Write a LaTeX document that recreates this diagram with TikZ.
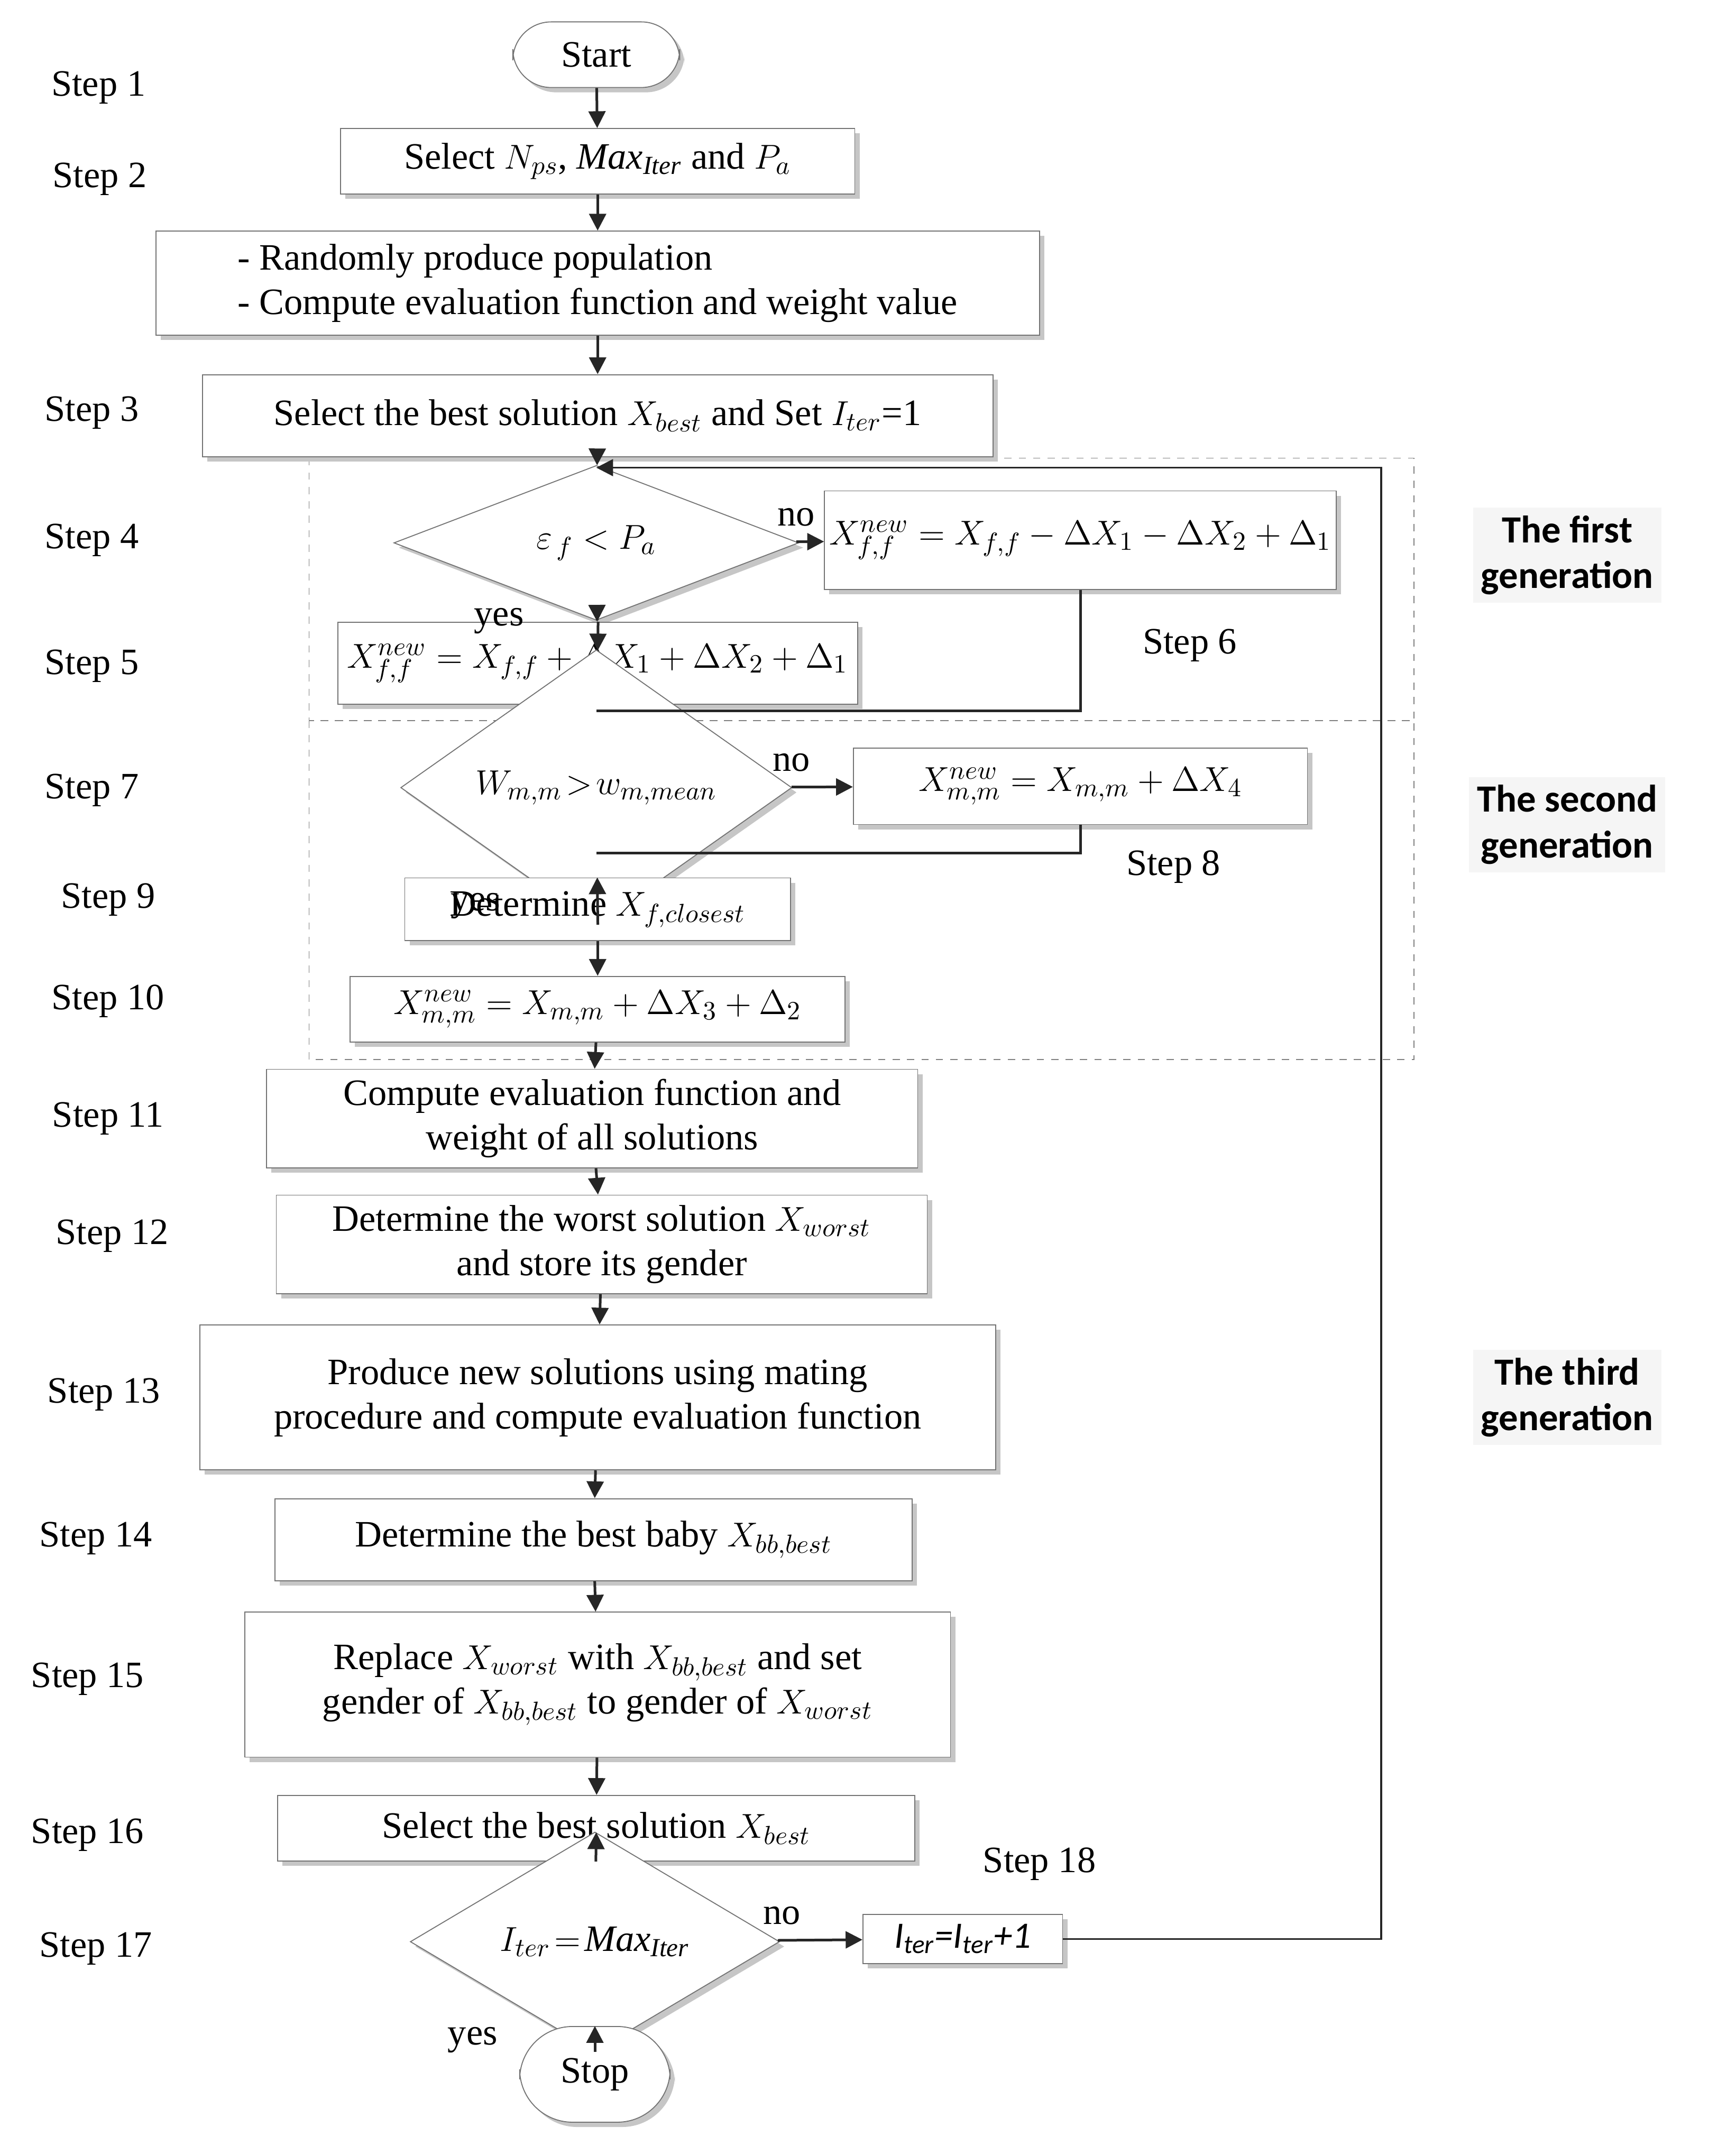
\documentclass[tikz,border=0pt]{standalone}
\usepackage{fontspec}
\setmainfont{Liberation Serif}
\setsansfont{Carlito}
\usetikzlibrary{shapes.geometric,shadows,arrows.meta}

\tikzset{
	sz/.style 2 args={minimum width=#1*0.02cm, minimum height=#2*0.02cm},
	box/.style={draw=gray!90!black, fill=white, inner sep=2pt, align=center,
		drop shadow={shadow xshift=2pt, shadow yshift=-2pt, fill=gray!45, opacity=1}},
	term/.style={box, rounded corners=16pt},
	dec/.style={draw=gray!90!black, fill=white, diamond, inner sep=0pt,
		drop shadow={shadow xshift=2pt, shadow yshift=-2pt, fill=gray!45, opacity=1}},
	lab/.style={inner sep=0pt},
	gen/.style={font=\sffamily\bfseries\fontsize{16}{19}\selectfont, align=center, fill=gray!8},
	arr/.style={-{Triangle[length=7pt,width=7pt]}, line width=1.1pt, draw=gray!30!black},
	ln/.style={line width=1.1pt, draw=gray!30!black}
}

\begin{document}
\begin{tikzpicture}[x=0.02cm, y=-0.02cm, font=\fontsize{15.5}{18.5}\selectfont]
	\useasboundingbox (0,0) rectangle (1269,1576);

	% dashed frames of the generations
	\draw[gray, dashed] (226,335) rectangle (1034,527);
	\draw[gray, dashed] (226,527) rectangle (1034,775);

	\node [term, sz={122}{48}] (A) at (436,40) {Start};
	\node [box, sz={376}{48}] (S1) at (437,118) {Select $N_{ps}$, $\mathit{Max}_{\mathit{Iter}}$ and $P_a$};
	\node [box, sz={646}{76}, align=left] (S2) at (437,207) {- Randomly produce population\\- Compute evaluation function and weight value};
	\node [box, sz={578}{60}] (S3) at (437,304) {Select the best solution $X_{best}$ and Set $I_{ter}$=1};
	\node [dec, sz={296}{70}] (D4) at (436,397) {$\varepsilon_{\,f}< P_a$};
	\node [box, sz={352}{72}] (S6) at (790,395) {$X^{new}_{f,f}=X_{f,f}-\Delta X_1-\Delta X_2+\Delta_1$};
	\node [box, sz={380}{60}] (S5) at (437,485) {$X^{new}_{f,f}=X_{f,f}+\Delta X_1+\Delta X_2+\Delta_1$};
	\node [dec, sz={286}{60}] (D7) at (436,576) {$W_{m,m}\!>\!w_{m,mean}$};
	\node [box, sz={332}{56}] (S8) at (790,575) {$X^{new}_{m,m}=X_{m,m}+\Delta X_4$};
	\node [box, sz={282}{46}] (S9) at (437,665) {Determine $X_{f,closest}$};
	\node [box, sz={362}{48}] (S10) at (437,738) {$X^{new}_{m,m}=X_{m,m}+\Delta X_3+\Delta_2$};
	\node [box, sz={476}{72}] (S11) at (433,818) {Compute evaluation function and\\weight of all solutions};
	\node [box, sz={476}{72}] (S12) at (440,910) {Determine the worst solution $X_{worst}$\\and store its gender};
	\node [box, sz={582}{106}] (S13) at (437,1022) {Produce new solutions using mating\\procedure and compute evaluation function};
	\node [box, sz={466}{60}] (S14) at (434,1126) {Determine the best baby $X_{bb,best}$};
	\node [box, sz={516}{106}] (S15) at (437,1232) {Replace $X_{worst}$ with $X_{bb,best}$ and set\\gender of $X_{bb,best}$ to gender of $X_{worst}$};
	\node [box, sz={466}{48}] (S16) at (436,1337) {Select the best solution $X_{best}$};
	\node [dec, sz={270}{70}] (D17) at (435,1420) {$I_{ter}\!=\!\mathit{Max}_{\mathit{Iter}}$};
	\node [box, sz={146}{36}, font=\sffamily\itshape\fontsize{15.5}{18.5}\selectfont] (S18) at (704,1418) {I\textsubscript{ter}=I\textsubscript{ter}+1};
	\node [term, sz={110}{70}, rounded corners=22pt] (B) at (435,1517) {Stop};

	\coordinate (J4) at (436,342);
	\coordinate (J7) at (436,520);
	\coordinate (J9) at (436,624);

	\draw[arr] (A) -- (S1);
	\draw[arr] (S1) -- (S2);
	\draw[arr] (S2) -- (S3);
	\draw[arr] (S3) -- (D4);
	\draw[arr] (D4) -- node [lab, pos=0.45, left=30pt] {yes} (S5);
	\draw[arr] (D4) -- node [lab, above, pos=0.0, yshift=6pt] {no} (S6);
	\draw[arr] (S5) -- (D7);
	\draw[ln] (S6.south) |- (J7);
	\draw[arr] (D7) -- node [lab, above, pos=0.0, yshift=6pt] {no} (S8);
	\draw[arr] (D7) -- node [lab, pos=0.4, left=40pt] {yes} (S9);
	\draw[ln] (S8.south) |- (J9);
	\draw[arr] (S9) -- (S10);
	\draw[arr] (S10) -- (S11);
	\draw[arr] (S11) -- (S12);
	\draw[arr] (S12) -- (S13);
	\draw[arr] (S13) -- (S14);
	\draw[arr] (S14) -- (S15);
	\draw[arr] (S15) -- (S16);
	\draw[arr] (S16) -- (D17);
	\draw[arr] (D17) -- node [lab, above, pos=0.05, yshift=6pt] {no} (S18);
	\draw[arr] (D17) -- node [lab, pos=0.45, left=40pt] {yes} (B);
	\draw[gray!30!black, line width=0.8pt, -{Triangle[length=7pt,width=7pt]}]
		(S18.east) -- (1010,1418) -- (1010,342) -- (J4);

	% step labels
	\foreach \t/\x/\y in {1/72/64, 2/73/131, 3/67/302, 4/67/395, 5/67/487, 6/870/472,
			7/67/578, 8/858/634, 9/79/658, 10/79/732, 11/79/818, 12/82/904, 13/76/1020,
			14/70/1125, 15/64/1228, 16/64/1342, 17/70/1425, 18/760/1363}
		\node [lab] (L\t) at (\x,\y) {Step \t};

	\node [gen] (G1) at (1146,406) {The first\\generation};
	\node [gen] (G2) at (1146,603) {The second\\generation};
	\node [gen] (G3) at (1146,1022) {The third\\generation};
\end{tikzpicture}
\end{document}
